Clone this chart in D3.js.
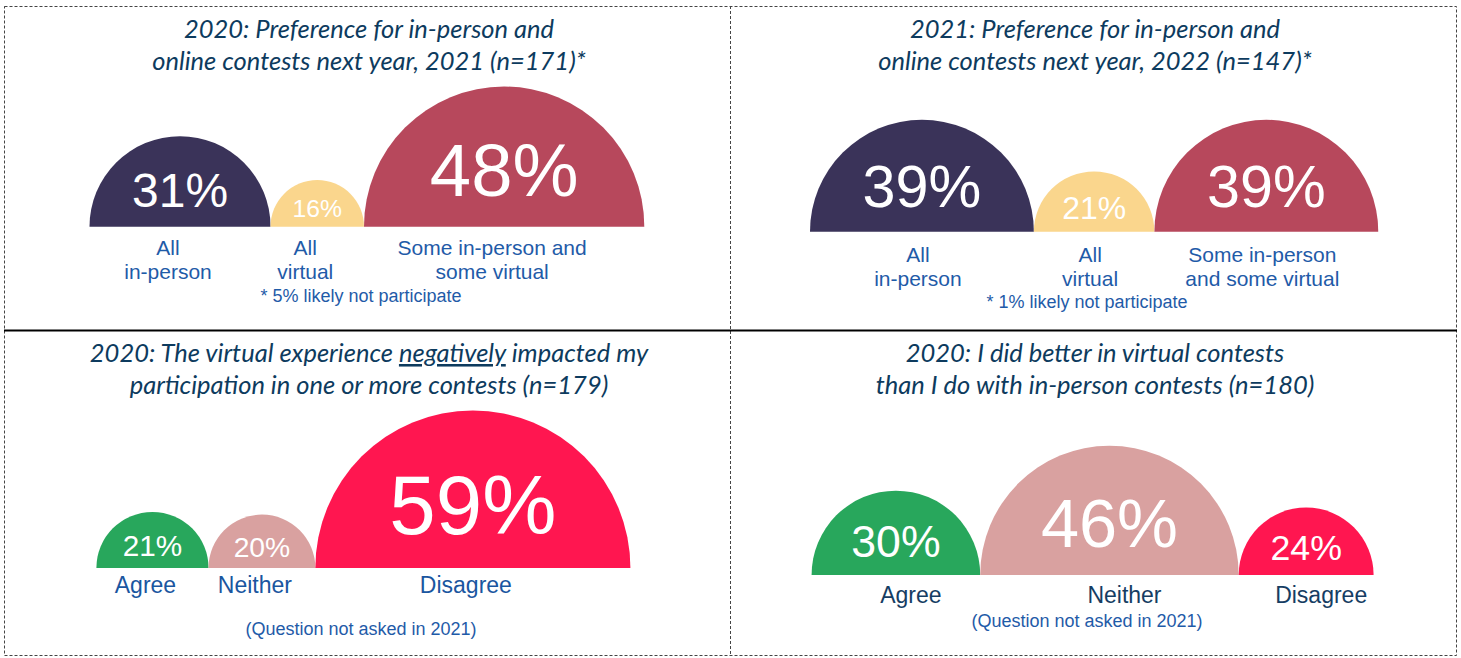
<!DOCTYPE html>
<html>
<head>
<meta charset="utf-8">
<script src="https://cdn.jsdelivr.net/npm/d3@7"></script>
<style>
  body { margin: 0; background: #fff; }
  svg { display: block; }
</style>
</head>
<body>
<div id="chart"></div>
<script>
// survey data
var pref2020Labels = [["All", "in-person"], ["All", "virtual"], ["Some in-person and", "some virtual"]];
var pref2020Values = [31, 16, 48];
var pref2021Labels = [["All", "in-person"], ["All", "virtual"], ["Some in-person", "and some virtual"]];
var pref2021Values = [39, 21, 39];
var negativeLabels = [["Agree"], ["Neither"], ["Disagree"]];
var negativeValues = [21, 20, 59];
var betterLabels = [["Agree"], ["Neither"], ["Disagree"]];
var betterValues = [30, 46, 24];

var prefColors = ["#3a3359", "#fad68d", "#b7485c"];
var agreeColors = ["#28a75c", "#d9a1a0", "#ff1650"];

var titles = [
    ["2020: Preference for in-person and", "online contests next year, 2021 (n=171)*"],
    ["2021: Preference for in-person and", "online contests next year, 2022 (n=147)*"],
    ["2020: The virtual experience |negatively| impacted my", "participation in one or more contests (n=179)"],
    ["2020: I did better in virtual contests", "than I do with in-person contests (n=180)"]
];
var notes = ["* 5% likely not participate", "* 1% likely not participate",
    "(Question not asked in 2021)", "(Question not asked in 2021)"];

var W = 1461, H = 658;

var svg = d3.select("#chart").append("svg")
    .attr("width", W)
    .attr("height", H);

// frame: dotted outer box, dotted middle divider, solid line between rows
var frame = svg.append("g").attr("stroke", "#444").attr("fill", "none");
frame.append("rect")
    .attr("x", 4.5).attr("y", 6.5).attr("width", 1452).attr("height", 649)
    .attr("stroke-dasharray", "3,2");
frame.append("line")
    .attr("x1", 730.5).attr("x2", 730.5).attr("y1", 6).attr("y2", 656)
    .attr("stroke-dasharray", "3,2");
frame.append("line")
    .attr("x1", 4).attr("x2", 1457).attr("y1", 330.5).attr("y2", 330.5)
    .attr("stroke", "#000").attr("stroke-width", 2);

// one config per panel (layout only)
var panels = [
    { labels: pref2020Labels, values: pref2020Values, colors: prefColors, x0: 89.5, base: 226.7, k: 2.92,
      cx: 369, titleY: 38, labelDx: -12, labelDy: 28, labelSize: 21, labelColor: "#1f5ba8", noteX: 361, noteDy: 75 },
    { labels: pref2021Labels, values: pref2021Values, colors: prefColors, x0: 810, base: 231.7, k: 2.87,
      cx: 1095, titleY: 38, labelDx: -4, labelDy: 30, labelSize: 21, labelColor: "#1f5ba8", noteX: 1087, noteDy: 76 },
    { labels: negativeLabels, values: negativeValues, colors: agreeColors, x0: 96.4, base: 568, k: 2.67,
      cx: 369, titleY: 362, labelDx: -7, labelDy: 25, labelSize: 23, labelColor: "#1a56a0", noteX: 361, noteDy: 67 },
    { labels: betterLabels, values: betterValues, colors: agreeColors, x0: 811.6, base: 575, k: 2.81,
      cx: 1095, titleY: 362, labelDx: 15, labelDy: 28, labelSize: 23, labelColor: "#163d63", noteX: 1087, noteDy: 52 }
];

var arc = d3.arc()
    .innerRadius(0)
    .startAngle(-Math.PI / 2)
    .endAngle(Math.PI / 2);

panels.forEach(function (p, i) {
    var g = svg.append("g");

    // title, two italic lines
    var t = g.append("text")
        .attr("text-anchor", "middle")
        .attr("font-family", "Lato, 'Open Sans', sans-serif")
        .attr("font-style", "italic")
        .attr("font-size", 25.5)
        .attr("fill", "#0d3b5e");
    titles[i].forEach(function (line, j) {
        var parts = line.split("|");
        var ln = t.append("tspan").attr("x", p.cx).attr("y", p.titleY + j * 32);
        parts.forEach(function (part, m) {
            var s = ln.append("tspan").text(part);
            if (m === 1) s.style("text-decoration", "underline");
        });
    });

    // radius proportional to share, each panel has its own size
    var r = d3.scaleLinear().domain([0, 100]).range([0, p.k * 100]);

    var items = [];
    var x = p.x0;
    p.values.forEach(function (v, j) {
        items.push({ value: v, label: p.labels[j], color: p.colors[j], cx: x + r(v), r: r(v) });
        x += 2 * r(v);
    });

    var domes = g.selectAll("g.dome")
        .data(items)
        .enter()
        .append("g")
        .attr("class", "dome")
        .attr("transform", function (d) { return "translate(" + d.cx + "," + p.base + ")"; });

    domes.append("path")
        .attr("d", function (d) { return arc({ outerRadius: d.r }); })
        .attr("fill", function (d) { return d.color; });

    domes.append("text")
        .attr("text-anchor", "middle")
        .attr("dominant-baseline", "central")
        .attr("y", function (d) { return -0.4 * d.r; })
        .attr("font-family", "'Liberation Sans', Arial, sans-serif")
        .attr("font-size", function (d) { return 0.53 * d.r; })
        .attr("fill", "#fff")
        .text(function (d) { return d.value + "%"; });

    var lab = domes.append("text")
        .attr("text-anchor", "middle")
        .attr("font-family", "'Liberation Sans', Arial, sans-serif")
        .attr("font-size", p.labelSize)
        .attr("fill", p.labelColor);
    lab.selectAll("tspan")
        .data(function (d) { return d.label; })
        .enter()
        .append("tspan")
        .attr("x", p.labelDx)
        .attr("y", function (d, j) { return p.labelDy + j * 24; })
        .text(function (d) { return d; });

    g.append("text")
        .attr("x", p.noteX)
        .attr("y", p.base + p.noteDy)
        .attr("text-anchor", "middle")
        .attr("font-family", "'Liberation Sans', Arial, sans-serif")
        .attr("font-size", 18)
        .attr("fill", "#1f5ba8")
        .text(notes[i]);
});
</script>
</body>
</html>
